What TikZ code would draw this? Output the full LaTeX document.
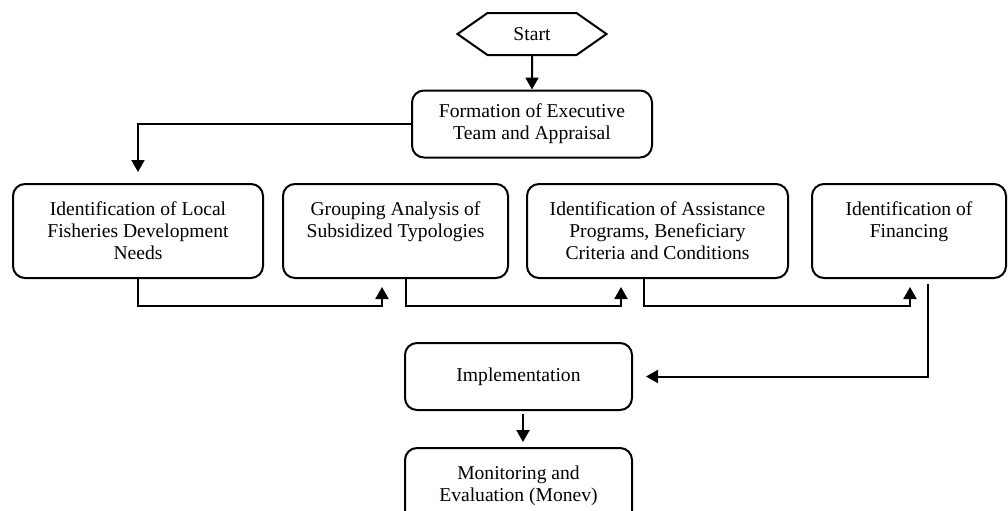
\documentclass[tikz,border=0pt]{standalone}
\usepackage{fontspec}
\setmainfont{Liberation Serif}
\usetikzlibrary{arrows.meta,shapes.symbols,calc}

\tikzset{
	box/.style={draw, line width=1pt, rounded corners=6pt, align=center, inner sep=2pt,
		font=\fontsize{9.8}{11}\selectfont},
	hexa/.style={draw, line width=1pt, signal, signal to=west and east, signal pointer angle=70,
		minimum width=74.5pt, minimum height=21pt, inner sep=1pt, font=\fontsize{9.8}{11}\selectfont}
}

\begin{document}
\begin{tikzpicture}
	[x=0.5pt,y=-0.5pt,line width=1pt,>={Triangle[length=6pt,width=6.5pt]}]

\useasboundingbox (0,0) rectangle (1008,510);

	\node[hexa] (start) at (532,34) {Start};
	\node[box, minimum width=120pt, minimum height=33.5pt] (form) at (532,124) {Formation of Executive\\Team and Appraisal};

	% second row
	\node[box, minimum width=125pt, minimum height=47pt] (needs) at (138,231) {Identification of Local\\Fisheries Development\\Needs};
	\node[box, minimum width=112.5pt, minimum height=47pt] (group) at (395.5,231) {Grouping Analysis of\\Subsidized Typologies\\\mbox{}};
	\node[box, minimum width=130.5pt, minimum height=47pt] (assist) at (657.5,231) {Identification of Assistance\\Programs, Beneficiary\\Criteria and Conditions};
	\node[box, minimum width=97pt, minimum height=47pt] (finance) at (909,231) {Identification of\\Financing\\\mbox{}};

	\node[box, minimum width=113.5pt, minimum height=33.5pt] (impl) at (518.5,376.5) {Implementation};
	\node[box, minimum width=113.5pt, minimum height=38pt] (monev) at (518.5,486) {Monitoring and\\Evaluation (Monev)};

	\draw[->] (start) -- (form);
	\draw[->,shorten >=5.5pt] (form.west) -| (needs.north);

	\draw[->,shorten >=4pt] (needs.south) -- ++(0,27) -| ($(group.south)+(-13.5,0)$);
	\draw[->,shorten >=4pt] ($(group.south)+(10.5,0)$) -- ++(0,27) -| ($(assist.south)+(-36.5,0)$);
	\draw[->,shorten >=4pt] ($(assist.south)+(-13.5,0)$) -- ++(0,27) -| ($(finance.south)+(1,0)$);
	\draw[->,shorten <=2.5pt,shorten >=6.5pt] ($(finance.south)+(19,0)$) |- (impl.east);

	\draw[->,shorten <=1.5pt,shorten >=2.5pt] ($(impl.south)+(4.5,0)$) -- ($(monev.north)+(4.5,0)$);

\end{tikzpicture}
\end{document}
